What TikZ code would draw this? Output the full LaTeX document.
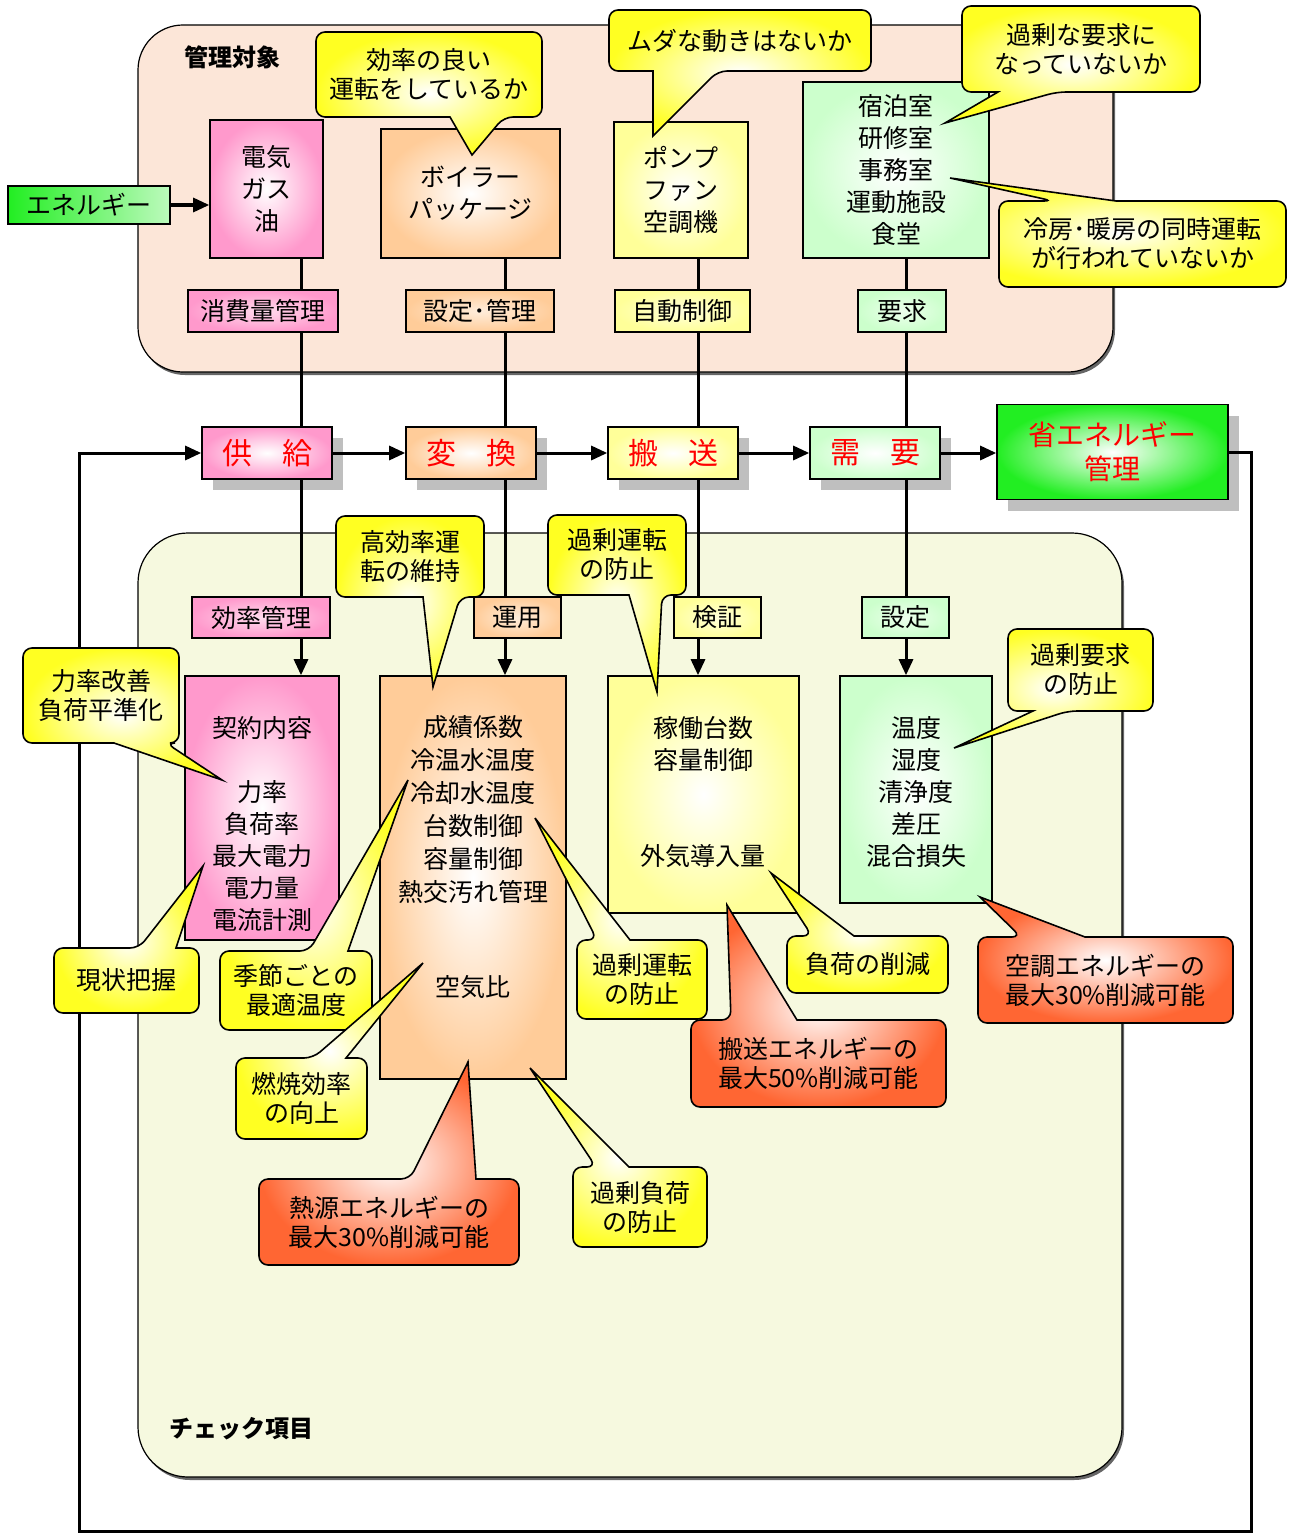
\documentclass[tikz,border=0pt]{standalone}
\usepackage{fontspec}
\setmainfont{Noto Sans CJK JP}
\usetikzlibrary{arrows.meta,shadows}

\definecolor{pinkc}{HTML}{FF99CC}
\definecolor{peachc}{HTML}{FFCC99}
\definecolor{yelc}{HTML}{FFFF99}
\definecolor{grnc}{HTML}{CCFFCC}
\definecolor{limec}{HTML}{22EE22}
\definecolor{callc}{HTML}{FFFF22}
\definecolor{redc}{HTML}{FF6633}
\definecolor{topbg}{HTML}{FCE6D8}
\definecolor{botbg}{HTML}{F6F9DF}

\tikzset{
  box/.style={draw, line width=1.6pt, inner sep=0pt, align=center, font=\fontsize{25}{32}\selectfont},
  boxof/.style={box, inner color=white, outer color=#1},
  tagof/.style={box, minimum height=42pt, inner color=#1!35!white, outer color=#1},
  stage/.style={box, minimum width=130pt, minimum height=52pt, inner color=white, outer color=#1,
    text=red, font=\fontsize{30}{34}\selectfont,
    drop shadow={shadow xshift=11pt, shadow yshift=-11pt, fill=black!25, opacity=1}},
  area/.style={draw, line width=1.2pt, drop shadow={shadow xshift=2pt, shadow yshift=-3pt, fill=black!60, opacity=1}},
  areatitle/.style={font=\bfseries\fontsize{24}{28}\selectfont},
  txt/.style={align=center, font=\fontsize{25}{32}\selectfont},
  conn/.style={line width=3pt},
  flow/.style={line width=3pt, -{Triangle[length=16pt,width=14pt]}},
  callY/.style={draw, line width=1.6pt, rounded corners=9pt, inner color=white, outer color=callc},
  callR/.style={draw, line width=1.6pt, rounded corners=9pt, inner color=white, outer color=redc},
  calltext/.style={align=center, font=\fontsize{25}{29}\selectfont},
}

% callout with the pointer on the lower edge
\newcommand{\tipdown}[9]{%
  \path[#1] (#2,#3) -- (#4,#3) -- (#4,#5) -- (#7,#5) [sharp corners] -- (#8,#9) -- (#6,#5)
    [rounded corners=9pt] -- (#2,#5) -- cycle;}
% callout with the pointer on the upper edge
\newcommand{\tipup}[9]{%
  \path[#1] (#2,#5) -- (#2,#3) -- (#6,#3) [sharp corners] -- (#8,#9) -- (#7,#3)
    [rounded corners=9pt] -- (#4,#3) -- (#4,#5) -- cycle;}

\begin{document}
\begin{tikzpicture}[x=1pt,y=-1pt]
\useasboundingbox (0,0) rectangle (1289,1533);

% areas
\draw[area, fill=topbg, rounded corners=45pt] (138,25) rectangle (1113,372);
\draw[area, fill=botbg, rounded corners=50pt] (138,533) rectangle (1122,1477);
\node[areatitle] (kanri) at (232,57) {管理対象};
\node[areatitle] (check) at (241,1429) {チェック項目};

% input
\node[box, minimum width=162pt, minimum height=38pt, left color=limec, right color=limec!30!white] (energy) at (89,205) {エネルギー};

% objects
\node[boxof=pinkc, minimum width=113pt, minimum height=138pt] (elec) at (266.5,189) {電気\\ガス\\油};
\node[boxof=peachc, minimum width=179pt, minimum height=129pt] (boiler) at (470.5,193.5) {ボイラー\\パッケージ};
\node[boxof=yelc, minimum width=134pt, minimum height=136pt] (pump) at (681,190) {ポンプ\\ファン\\空調機};
\node[boxof=grnc, minimum width=186pt, minimum height=176pt] (rooms) at (896,170) {宿泊室\\研修室\\事務室\\運動施設\\食堂};

\node[tagof=pinkc, minimum width=150pt] (shohi) at (263,311) {消費量管理};
\node[tagof=peachc, minimum width=148pt] (settei) at (480,311) {設定･管理};
\node[tagof=yelc, minimum width=135pt] (jido) at (682.5,311) {自動制御};
\node[tagof=grnc, minimum width=88pt] (yokyu) at (902,311) {要求};

% stages
\node[stage=pinkc] (kyokyu) at (267,453) {供　給};
\node[stage=peachc] (henkan) at (471,453) {変　換};
\node[stage=yelc] (hanso) at (673,453) {搬　送};
\node[stage=grnc] (juyo) at (875,453) {需　要};
\node[stage=limec, minimum width=231pt, minimum height=95pt, font=\fontsize{28}{34}\selectfont] (shoene) at (1112.5,452) {省エネルギー\\管理};

% check items
\node[tagof=pinkc, minimum width=138pt, minimum height=41pt] (kouritsu) at (261,617.5) {効率管理};
\node[tagof=peachc, minimum width=87pt, minimum height=41pt] (unyo) at (517.5,617.5) {運用};
\node[tagof=yelc, minimum width=87pt, minimum height=41pt] (kensho) at (717.5,617.5) {検証};
\node[tagof=grnc, minimum width=87pt, minimum height=41pt] (settei2) at (905.5,617.5) {設定};

\node[boxof=pinkc, minimum width=154pt, minimum height=264pt] (keiyaku) at (262,808) {};
\node[boxof=peachc, minimum width=186pt, minimum height=403pt] (seiseki) at (473,877.5) {};
\node[boxof=yelc, minimum width=191pt, minimum height=237pt] (kado) at (703.5,794.5) {};
\node[boxof=grnc, minimum width=152pt, minimum height=227pt] (ondo) at (916,789.5) {};

\node[txt] (keiyakuT) at (262,824) {契約内容\\[32pt]力率\\負荷率\\最大電力\\電力量\\電流計測};
\node[txt, font=\fontsize{25}{33}\selectfont] (seisekiT) at (473,810) {成績係数\\冷温水温度\\冷却水温度\\台数制御\\容量制御\\熱交汚れ管理};
\node[txt] (kukiT) at (473,987) {空気比};
\node[txt] (kadoT) at (703,792) {稼働台数\\容量制御\\[64pt]外気導入量};
\node[txt] (ondoT) at (916,792) {温度\\湿度\\清浄度\\差圧\\混合損失};

% connectors
\coordinate (colA) at (301,0);
\coordinate (colB) at (505,0);
\coordinate (colC) at (698,0);
\coordinate (colD) at (906,0);

\draw[flow] (energy.east) -- (energy.east -| elec.west);

\draw[conn] (elec.south -| colA) -- (shohi.north -| colA);
\draw[conn] (shohi.south -| colA) -- (kyokyu.north -| colA);
\draw[conn] (kyokyu.south -| colA) -- (kouritsu.north -| colA);
\draw[flow] (kouritsu.south -| colA) -- (keiyaku.north -| colA);

\draw[conn] (boiler.south -| colB) -- (settei.north -| colB);
\draw[conn] (settei.south -| colB) -- (henkan.north -| colB);
\draw[conn] (henkan.south -| colB) -- (unyo.north -| colB);
\draw[flow] (unyo.south -| colB) -- (seiseki.north -| colB);

\draw[conn] (pump.south -| colC) -- (jido.north -| colC);
\draw[conn] (jido.south -| colC) -- (hanso.north -| colC);
\draw[conn] (hanso.south -| colC) -- (kensho.north -| colC);
\draw[flow] (kensho.south -| colC) -- (kado.north -| colC);

\draw[conn] (rooms.south -| colD) -- (yokyu.north -| colD);
\draw[conn] (yokyu.south -| colD) -- (juyo.north -| colD);
\draw[conn] (juyo.south -| colD) -- (settei2.north -| colD);
\draw[flow] (settei2.south -| colD) -- (ondo.north -| colD);

\draw[flow] (kyokyu.east) -- (henkan.west);
\draw[flow] (henkan.east) -- (hanso.west);
\draw[flow] (hanso.east) -- (juyo.west);
\draw[flow] (juyo.east) -- (juyo.east -| shoene.west);

\coordinate (loopR) at (1251,1531);
\coordinate (loopL) at (79,1531);
\draw[flow] (shoene.east) -| (loopR) -- (loopL) |- (kyokyu.west);

% callouts
\tipdown{callY}{316}{32}{542}{117}{450}{504}{472}{155}
\node[calltext] (c1) at (429,74.5) {効率の良い\\運転をしているか};
\tipdown{callY}{609}{10}{871}{71}{653}{718}{653}{136}
\node[calltext] (c2) at (740,40.5) {ムダな動きはないか};
\tipdown{callY}{962}{6}{1200}{92}{998}{1057}{945}{123}
\node[calltext] (c3) at (1081,49) {過剰な要求に\\なっていないか};
\tipup{callY}{999}{201}{1286}{287}{1053}{1116}{950}{178}
\node[calltext] (c4) at (1142.5,244) {冷房･暖房の同時運転\\が行われていないか};

\tipdown{callY}{23}{648}{179}{743}{114}{166}{222}{780}
\node[calltext] (c5) at (101,695.5) {力率改善\\負荷平準化};
\tipup{callY}{54}{948}{199}{1013}{139}{176}{203}{866}
\node[calltext] (c6) at (126.5,980.5) {現状把握};
\tipup{callY}{220}{951}{372}{1030}{309}{348}{408}{780}
\node[calltext] (c7) at (296,990.5) {季節ごとの\\最適温度};
\tipup{callY}{236}{1058}{367}{1139}{313}{346}{423}{963}
\node[calltext] (c8) at (301.5,1098.5) {燃焼効率\\の向上};
\tipup{callR}{259}{1179}{519}{1265}{410}{476}{468}{1062}
\node[calltext] (c9) at (389,1222) {熱源エネルギーの\\最大30\%削減可能};
\tipup{callY}{573}{1167}{707}{1247}{596}{629}{530}{1068}
\node[calltext] (c10) at (640,1207) {過剰負荷\\の防止};
\tipup{callY}{577}{940}{707}{1019}{597}{630}{535}{818}
\node[calltext] (c11) at (642,979.5) {過剰運転\\の防止};
\tipdown{callY}{336}{516}{484}{597}{423}{460}{433}{687}
\node[calltext] (c12) at (410,556.5) {高効率運\\転の維持};
\tipdown{callY}{548}{515}{686}{595}{629}{662}{657}{692}
\node[calltext] (c13) at (617,555) {過剰運転\\の防止};
\tipdown{callY}{1008}{629}{1153}{711}{1033}{1068}{954}{748}
\node[calltext] (c14) at (1080.5,670) {過剰要求\\の防止};
\tipup{callY}{787}{936}{948}{993}{812}{854}{771}{873}
\node[calltext] (c15) at (867.5,964.5) {負荷の削減};
\tipup{callR}{691}{1020}{946}{1107}{731}{797}{727}{905}
\node[calltext] (c16) at (818.5,1063.5) {搬送エネルギーの\\最大50\%削減可能};
\tipup{callR}{978}{937}{1233}{1023}{1021}{1085}{980}{897}
\node[calltext] (c17) at (1105.5,980) {空調エネルギーの\\最大30\%削減可能};

\end{tikzpicture}
\end{document}
